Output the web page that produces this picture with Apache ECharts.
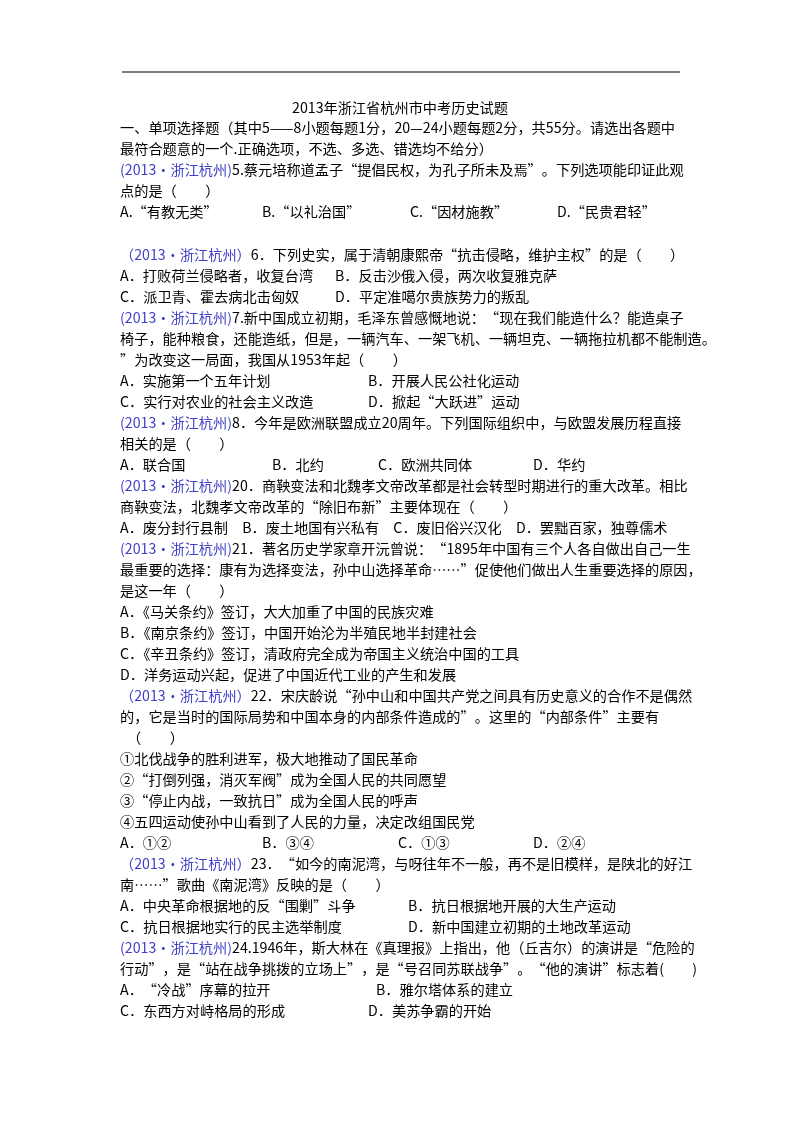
<!DOCTYPE html>
<html><head><meta charset="utf-8">
<script src="https://cdn.jsdelivr.net/npm/echarts@6/dist/echarts.min.js"></script>
<style>html,body{margin:0;padding:0;background:#fff}#c{width:800px;height:1132px}</style>
</head><body><div id="c"></div>
<script>
const title = "2013年浙江省杭州市中考历史试题";
const lines = [
 ["一、单项选择题（其中5——8小题每题1分，20—24小题每题2分，共55分。请选出各题中"],
 ["最符合题意的一个.正确选项，不选、多选、错选均不给分）"],
 ["(2013•浙江杭州)5.蔡元培称道孟子“提倡民权，为孔子所未及焉”。下列选项能印证此观"],
 ["点的是（　　）"],
 ["A.“有教无类”","B.“以礼治国”","C.“因材施教”","D.“民贵君轻”"],
 [""],
 ["（2013•浙江杭州）6．下列史实，属于清朝康熙帝“抗击侵略，维护主权”的是（　　）"],
 ["A．打败荷兰侵略者，收复台湾","B．反击沙俄入侵，两次收复雅克萨"],
 ["C．派卫青、霍去病北击匈奴","D．平定准噶尔贵族势力的叛乱"],
 ["(2013•浙江杭州)7.新中国成立初期，毛泽东曾感慨地说：“现在我们能造什么？能造桌子"],
 ["椅子，能种粮食，还能造纸，但是，一辆汽车、一架飞机、一辆坦克、一辆拖拉机都不能制造。"],
 ["”为改变这一局面，我国从1953年起（　　）"],
 ["A．实施第一个五年计划","B．开展人民公社化运动"],
 ["C．实行对农业的社会主义改造","D．掀起“大跃进”运动"],
 ["(2013•浙江杭州)8．今年是欧洲联盟成立20周年。下列国际组织中，与欧盟发展历程直接"],
 ["相关的是（　　）"],
 ["A．联合国","B．北约","C．欧洲共同体","D．华约"],
 ["(2013•浙江杭州)20．商鞅变法和北魏孝文帝改革都是社会转型时期进行的重大改革。相比"],
 ["商鞅变法，北魏孝文帝改革的“除旧布新”主要体现在（　　）"],
 ["A．废分封行县制　B．废土地国有兴私有　C．废旧俗兴汉化　D．罢黜百家，独尊儒术"],
 ["(2013•浙江杭州)21．著名历史学家章开沅曾说：“1895年中国有三个人各自做出自己一生"],
 ["最重要的选择：康有为选择变法，孙中山选择革命……”促使他们做出人生重要选择的原因，"],
 ["是这一年（　　）"],
 ["A．《马关条约》签订，大大加重了中国的民族灾难"],
 ["B．《南京条约》签订，中国开始沦为半殖民地半封建社会"],
 ["C．《辛丑条约》签订，清政府完全成为帝国主义统治中国的工具"],
 ["D．洋务运动兴起，促进了中国近代工业的产生和发展"],
 ["（2013•浙江杭州）22．宋庆龄说“孙中山和中国共产党之间具有历史意义的合作不是偶然"],
 ["的，它是当时的国际局势和中国本身的内部条件造成的”。这里的“内部条件”主要有"],
 ["　（　　）"],
 ["①北伐战争的胜利进军，极大地推动了国民革命"],
 ["②“打倒列强，消灭军阀”成为全国人民的共同愿望"],
 ["③“停止内战，一致抗日”成为全国人民的呼声"],
 ["④五四运动使孙中山看到了人民的力量，决定改组国民党"],
 ["A．①②","B．③④","C．①③","D．②④"],
 ["（2013•浙江杭州）23．“如今的南泥湾，与呀往年不一般，再不是旧模样，是陕北的好江"],
 ["南……”歌曲《南泥湾》反映的是（　　）"],
 ["A．中央革命根据地的反“围剿”斗争","B．抗日根据地开展的大生产运动"],
 ["C．抗日根据地实行的民主选举制度","D．新中国建立初期的土地改革运动"],
 ["(2013•浙江杭州)24.1946年，斯大林在《真理报》上指出，他（丘吉尔）的演讲是“危险的"],
 ["行动”，是“站在战争挑拨的立场上”，是“号召同苏联战争”。“他的演讲”标志着(　　)"],
 ["A．“冷战”序幕的拉开","B．雅尔塔体系的建立"],
 ["C．东西方对峙格局的形成","D．美苏争霸的开始"]
];
const colX = {
  4:[120,262,410,557], 7:[120,335], 8:[120,335], 12:[120,368], 13:[120,368],
  16:[120,272,378,533], 34:[120,262,398,533], 37:[120,408], 38:[120,408],
  41:[120,376], 42:[120,368]
};
const FONT='14.2px "Noto Sans CJK SC"';
const g = [];
g.push({type:'line',shape:{x1:122,y1:72,x2:680,y2:72},style:{stroke:'#000',lineWidth:1.2}});
g.push({type:'text',x:400,y:108,style:{text:title,font:FONT,fill:'#000',align:'center',verticalAlign:'middle'}});
const y0=128, dy=21.02;
lines.forEach((cols,i)=>{
  const y=y0+i*dy;
  const xs=colX[i]||[120];
  cols.forEach((t,j)=>{
    if(!t) return;
    const m=t.match(/^([（(]2013•浙江杭州[)）])(.*)$/);
    let style;
    if(m){
      style={text:'{b|'+m[1]+'}{n|'+m[2]+'}',rich:{b:{fill:'#3f3fc8',font:FONT},n:{fill:'#000',font:FONT}},verticalAlign:'middle'};
    } else {
      style={text:t,font:FONT,fill:'#000',verticalAlign:'middle'};
    }
    g.push({type:'text',x:xs[j],y:y,style:style});
  });
});
const chart=echarts.init(document.getElementById('c'));
chart.setOption({backgroundColor:'#fff',graphic:g});
</script></body></html>
